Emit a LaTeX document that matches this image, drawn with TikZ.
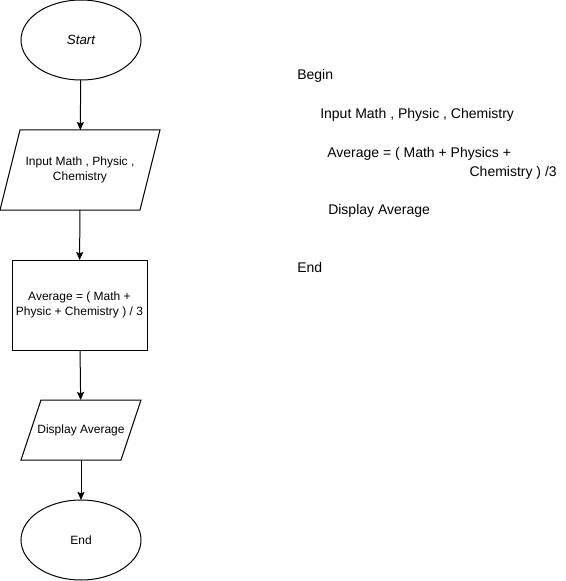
\documentclass[tikz,border=0pt]{standalone}
\usepackage{fontspec}
\setmainfont{Liberation Sans}
\usetikzlibrary{shapes.geometric,arrows.meta}

\begin{document}
\begin{tikzpicture} [
                x=0.75pt,
                y=-0.75pt,
                chart text/.style = {font=\fontsize{9}{11.25}\selectfont},
                terminal/.style = {ellipse,draw,line width=0.75pt,chart text,minimum width=90pt,minimum height=60pt,inner sep=0pt,outer sep=0pt},
                io/.style = {rectangle,chart text,align=center,inner sep=0pt,outer sep=0pt},
                io border/.style = {draw,line width=0.75pt},
                process/.style = {rectangle,draw,line width=0.75pt,chart text,align=center,minimum width=101.25pt,minimum height=67.5pt,inner sep=0pt,outer sep=0pt},
                flow/.style = {draw,line width=0.75pt,-{Stealth[length=6pt,width=5.25pt,inset=1pt]}},
                code/.style = {font=\fontsize{10.5}{13}\selectfont,inner sep=0pt}
            ]
            \useasboundingbox (0,0) rectangle (566,581);
            % the flowchart
            \node[terminal,font=\itshape] (start) at (81,40) {Start};
            \node[io,minimum width=105pt,minimum height=60pt] (input) at (80,170) {Input Math , Physic ,\\Chemistry};
            \node[process] (calc) at (79.5,305) {Average = ( Math +\\Physic + Chemistry ) / 3};
            \node[io,minimum width=75pt,minimum height=45pt] (output) at (81,430) {Display Average};
            \node[terminal] (stop) at (81,540) {End};
            % slanted sides of the input / output boxes
            \foreach \name in {input, output}
                \path[io border] ([xshift=-7.5pt]\name.south west) -- ([xshift=7.5pt]\name.north west)
                    -- ([xshift=7.5pt]\name.north east) -- ([xshift=-7.5pt]\name.south east) -- cycle;
            \foreach \source/\dest in {start/input, input/calc, calc/output, output/stop}
                \path[flow] (\source) -- (\dest);
            % the pseudocode
            \foreach \pos/\name/\line in {
                {(297,80)/begin/Begin}, {(320,118)/read/{Input Math , Physic , Chemistry}},
                {(327,157)/avg/{Average = ( Math + Physics +}}, {(328,214)/show/{Display Average}},
                {(297,272)/finish/End}}
                \node[code,anchor=base west] (\name) at \pos {\line};
            \node[code,anchor=base east] (avgcont) at (557,176) {Chemistry ) /3};
        \end{tikzpicture}
\end{document}
